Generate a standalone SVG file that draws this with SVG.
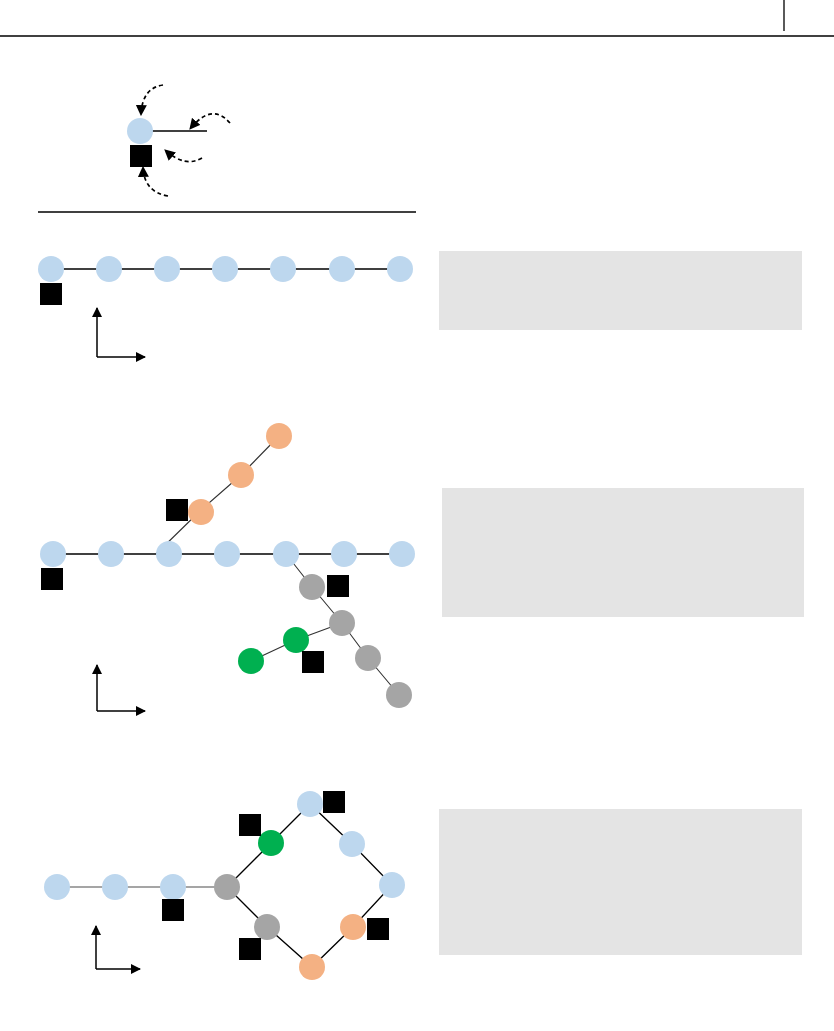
<svg xmlns="http://www.w3.org/2000/svg" width="834" height="1031" viewBox="0 0 834 1031">
<defs>
<style>
.blue{fill:#bdd7ee}
.orange{fill:#f4b183}
.gray{fill:#a5a5a5}
.green{fill:#00b050}
.sq{fill:#000}
.box{fill:#e4e4e4}
.ln{stroke:#000;stroke-width:1.3;fill:none}
.lnd{stroke:#333;stroke-width:1.1;fill:none}
.lng{stroke:#a5a5a5;stroke-width:2;fill:none}
.dash{stroke:#000;stroke-width:1.7;stroke-dasharray:4,3;fill:none;marker-end:url(#ahd)}
.axis{stroke:#000;stroke-width:1.5;fill:none;marker-end:url(#ah)}
</style>
<marker id="ah" viewBox="0 0 10 10" refX="9" refY="5" markerWidth="10" markerHeight="10" markerUnits="userSpaceOnUse" orient="auto">
<path d="M0,0 L10,5 L0,10 z" fill="#000"/>
</marker>
<marker id="ahd" viewBox="0 0 10 10" refX="9" refY="5" markerWidth="11" markerHeight="11" markerUnits="userSpaceOnUse" orient="auto">
<path d="M0,0 L10,5 L0,10 z" fill="#000"/>
</marker>
</defs>
<rect width="834" height="1031" fill="#fff"/>
<g id="header">
<line x1="0" y1="36" x2="834" y2="36" stroke="#000" stroke-width="1.3"/>
<line x1="784" y1="0" x2="784" y2="31" stroke="#000" stroke-width="1.3"/>
<line x1="38" y1="212" x2="416" y2="212" stroke="#000" stroke-width="1.5"/>
</g>
<g id="boxes">
<rect class="box" x="439" y="251" width="363" height="79"/>
<rect class="box" x="442" y="488" width="362" height="129"/>
<rect class="box" x="439" y="809" width="363" height="146"/>
</g>
<g id="connectors">
<line class="ln" x1="140" y1="131" x2="207" y2="131"/>
<path class="dash" d="M163,85 Q142,88 141,115"/>
<path class="dash" d="M230,123 Q212,102 190,129"/>
<path class="dash" d="M202,158 Q185,168 165,150"/>
<path class="dash" d="M168,196 Q144,192 143,167"/>
<line class="ln" x1="51" y1="269" x2="400" y2="269"/>
<path class="axis" d="M97,357 L97,308"/>
<path class="axis" d="M97,357 L145,357"/>
<line class="ln" x1="53" y1="554" x2="402" y2="554"/>
<polyline class="lnd" points="156,554 201,510 241,475 279,436"/>
<polyline class="lnd" points="286,554 312,587 342,623 368,658 399,695"/>
<polyline class="lnd" points="342,623 296,640 251,661"/>
<path class="axis" d="M97,711 L97,665"/>
<path class="axis" d="M97,711 L145,711"/>
<line class="lng" x1="57" y1="887" x2="227" y2="887"/>
<polygon class="ln" points="227,887 271,843 310,804 352,844 392,885 353,927 312,967 267,927"/>
<path class="axis" d="M96,969 L96,926"/>
<path class="axis" d="M96,969 L140,969"/>
</g>
<g id="legend">
<circle class="blue" cx="140" cy="131" r="13"/>
<rect class="sq" x="130" y="145" width="22" height="22"/>
</g>
<g id="chain1">
<circle class="blue" cx="51" cy="269" r="13"/>
<circle class="blue" cx="109" cy="269" r="13"/>
<circle class="blue" cx="167" cy="269" r="13"/>
<circle class="blue" cx="225" cy="269" r="13"/>
<circle class="blue" cx="283" cy="269" r="13"/>
<circle class="blue" cx="342" cy="269" r="13"/>
<circle class="blue" cx="400" cy="269" r="13"/>
<rect class="sq" x="40" y="283" width="22" height="22"/>
</g>
<g id="chain2">
<circle class="blue" cx="53" cy="554" r="13"/>
<circle class="blue" cx="111" cy="554" r="13"/>
<circle class="blue" cx="169" cy="554" r="13"/>
<circle class="blue" cx="227" cy="554" r="13"/>
<circle class="blue" cx="286" cy="554" r="13"/>
<circle class="blue" cx="344" cy="554" r="13"/>
<circle class="blue" cx="402" cy="554" r="13"/>
<rect class="sq" x="41" y="568" width="22" height="22"/>
</g>
<g id="branch-orange">
<circle class="orange" cx="201" cy="512" r="13"/>
<circle class="orange" cx="241" cy="475" r="13"/>
<circle class="orange" cx="279" cy="436" r="13"/>
<rect class="sq" x="166" y="499" width="22" height="22"/>
</g>
<g id="branch-gray">
<circle class="gray" cx="312" cy="587" r="13"/>
<circle class="gray" cx="342" cy="623" r="13"/>
<circle class="gray" cx="368" cy="658" r="13"/>
<circle class="gray" cx="399" cy="695" r="13"/>
<rect class="sq" x="327" y="575" width="22" height="22"/>
</g>
<g id="branch-green">
<circle class="green" cx="296" cy="640" r="13"/>
<circle class="green" cx="251" cy="661" r="13"/>
<rect class="sq" x="302" y="651" width="22" height="22"/>
</g>
<g id="chain3">
<circle class="blue" cx="57" cy="887" r="13"/>
<circle class="blue" cx="115" cy="887" r="13"/>
<circle class="blue" cx="173" cy="887" r="13"/>
<rect class="sq" x="162" y="899" width="22" height="22"/>
</g>
<g id="ring">
<circle class="gray" cx="227" cy="887" r="13"/>
<circle class="green" cx="271" cy="843" r="13"/>
<circle class="blue" cx="310" cy="804" r="13"/>
<circle class="blue" cx="352" cy="844" r="13"/>
<circle class="blue" cx="392" cy="885" r="13"/>
<circle class="orange" cx="353" cy="927" r="13"/>
<circle class="orange" cx="312" cy="967" r="13"/>
<circle class="gray" cx="267" cy="927" r="13"/>
<rect class="sq" x="239" y="814" width="22" height="22"/>
<rect class="sq" x="323" y="791" width="22" height="22"/>
<rect class="sq" x="367" y="918" width="22" height="22"/>
<rect class="sq" x="239" y="938" width="22" height="22"/>
</g>
</svg>
